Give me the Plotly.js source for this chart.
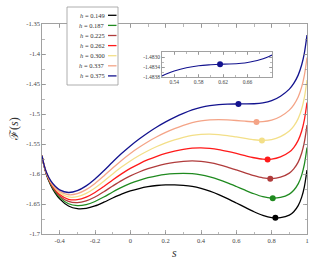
<!DOCTYPE html>
<html><head><meta charset="utf-8">
<script src="https://cdn.plot.ly/plotly-3.0.1.min.js"></script>
<style>html,body{margin:0;padding:0;background:#fff}#chart{width:312px;height:260px}</style>
</head><body><div id="chart"></div>
<script>
// order parameter grid
const sGrid = [-0.5,-0.49,-0.475,-0.45,-0.425,-0.4,-0.35,-0.3,-0.25,-0.2,-0.15,-0.1,-0.05,0,0.05,0.1,0.15,0.2,0.25,0.3,0.35,0.4,0.45,0.5,0.55,0.6,0.65,0.7,0.75,0.8,0.85,0.9,0.925,0.95,0.97,0.985,1.0];

const F_0149 = [-1.5695,-1.5845,-1.6008,-1.6190,-1.6318,-1.6415,-1.6533,-1.6578,-1.6573,-1.6533,-1.6470,-1.6400,-1.6335,-1.6282,-1.6242,-1.6212,-1.6192,-1.6182,-1.6182,-1.6190,-1.6207,-1.6240,-1.6286,-1.6343,-1.6410,-1.6483,-1.6557,-1.6629,-1.6690,-1.6728,-1.6728,-1.6685,-1.6628,-1.6527,-1.6385,-1.6213,-1.5935];
const F_0187 = [-1.5695,-1.58425,-1.6001,-1.6178,-1.6299,-1.6390,-1.6496,-1.6528,-1.6511,-1.6458,-1.6383,-1.6300,-1.6223,-1.6157,-1.6105,-1.6062,-1.6030,-1.6007,-1.5995,-1.5990,-1.5995,-1.6015,-1.6049,-1.6093,-1.6148,-1.6208,-1.6270,-1.6329,-1.6378,-1.6403,-1.6391,-1.6335,-1.6271,-1.6165,-1.6018,-1.5841,-1.5560];
const F_0225 = [-1.5695,-1.5840,-1.5995,-1.6165,-1.6280,-1.6365,-1.6458,-1.6478,-1.6448,-1.6383,-1.6295,-1.6200,-1.6110,-1.6032,-1.5967,-1.5912,-1.5867,-1.5832,-1.5807,-1.5790,-1.5782,-1.5790,-1.5811,-1.5843,-1.5885,-1.5933,-1.5982,-1.6029,-1.6065,-1.6078,-1.6053,-1.5985,-1.5915,-1.5802,-1.5650,-1.5470,-1.5185];
const F_0262 = [-1.5695,-1.58375,-1.5989,-1.6153,-1.6261,-1.6340,-1.6421,-1.6428,-1.6386,-1.6308,-1.6208,-1.6100,-1.5998,-1.5907,-1.5830,-1.5762,-1.5705,-1.5657,-1.5620,-1.5590,-1.5570,-1.5565,-1.5574,-1.5593,-1.5623,-1.5658,-1.5695,-1.5729,-1.5753,-1.5753,-1.5716,-1.5635,-1.5559,-1.5440,-1.5283,-1.5099,-1.4810];
const F_0300 = [-1.5695,-1.5835,-1.5983,-1.6140,-1.6243,-1.6315,-1.6383,-1.6378,-1.6323,-1.6233,-1.6120,-1.6000,-1.5885,-1.5782,-1.5692,-1.5612,-1.5542,-1.5482,-1.5432,-1.5390,-1.5357,-1.5340,-1.5336,-1.5343,-1.5360,-1.5383,-1.5407,-1.5429,-1.5440,-1.5428,-1.5378,-1.5285,-1.5203,-1.5077,-1.4915,-1.4728,-1.4435];
const F_0337 = [-1.5695,-1.58325,-1.5976,-1.6128,-1.6224,-1.6290,-1.6346,-1.6328,-1.6261,-1.6158,-1.6033,-1.5900,-1.5773,-1.5657,-1.5555,-1.5462,-1.5380,-1.5307,-1.5245,-1.5190,-1.5145,-1.5115,-1.5099,-1.5093,-1.5098,-1.5108,-1.5120,-1.5129,-1.5128,-1.5103,-1.5041,-1.4935,-1.4846,-1.4715,-1.4548,-1.4356,-1.4060];
const F_0375 = [-1.5695,-1.5830,-1.5970,-1.6115,-1.6205,-1.6265,-1.6308,-1.6278,-1.6198,-1.6083,-1.5945,-1.5800,-1.5660,-1.5532,-1.5417,-1.5312,-1.5217,-1.5132,-1.5057,-1.4990,-1.4932,-1.4890,-1.4861,-1.4843,-1.4835,-1.4833,-1.4832,-1.4829,-1.4815,-1.4778,-1.4703,-1.4585,-1.4490,-1.4352,-1.4180,-1.3985,-1.3685];

const hLabels = ['0.149','0.187','0.225','0.262','0.300','0.337','0.375'];
const seriesF = [F_0149, F_0187, F_0225, F_0262, F_0300, F_0337, F_0375];
const colors = ['#000000','#1f8a1f','#b03c3c','#ff1a1a','#f3df88','#f4a487','#13138f'];

// marked points (local minimum / inflection)
const dotS = [0.821, 0.806, 0.792, 0.777, 0.745, 0.714, 0.612];
const dotF = [-1.6729, -1.6404, -1.6080, -1.5758, -1.5443, -1.5133, -1.4833];

// inset (zoom of h = 0.375 near inflection)
const insetS = [0.52,0.53,0.54,0.56,0.58,0.60,0.615,0.63,0.65,0.66,0.67,0.68,0.69,0.70];
const insetF = [-1.48376,-1.48365,-1.48356,-1.48343,-1.48335,-1.48331,-1.48329,-1.48328,-1.48325,-1.48322,-1.48317,-1.48311,-1.48303,-1.48292];
const insetDotS = [0.615];
const insetDotF = [-1.48329];

const yTickVals = [-1.7,-1.65,-1.6,-1.55,-1.5,-1.45,-1.4,-1.35];
const yTickText = ['-1.7','-1.65','-1.6','-1.55','-1.5','-1.45','-1.4','-1.35'];
const xTickVals = [-0.4,-0.2,0,0.2,0.4,0.6,0.8,1];
const xTickText = ['-0.4','-0.2','0','0.2','0.4','0.6','0.8','1'];
const ixTickVals = [0.54,0.58,0.62,0.66];
const ixTickText = ['0.54','0.58','0.62','0.66'];
const iyTickVals = [-1.4838,-1.4834,-1.4830];
const iyTickText = ['-1.4838','-1.4834','-1.4830'];

const W = 312, H = 260, ML = 42, MR = 5, MT = 24, MB = 26;
const pw = W - ML - MR, ph = H - MT - MB;
const px = x => (x - ML) / pw;
const py = y => (H - MB - y) / ph;

const traces = [];
seriesF.forEach((f, i) => {
  traces.push({x: sGrid, y: f, type: 'scatter', mode: 'lines',
    line: {color: colors[i], width: 1.3, shape: 'spline', smoothing: 0.8},
    hoverinfo: 'skip', showlegend: false, xaxis: 'x', yaxis: 'y'});
});
traces.push({x: dotS, y: dotF, type: 'scatter', mode: 'markers',
  marker: {color: colors, size: 6}, showlegend: false, xaxis: 'x', yaxis: 'y'});
traces.push({x: insetS, y: insetF, type: 'scatter', mode: 'lines',
  line: {color: colors[6], width: 1.2, shape: 'spline'}, showlegend: false, xaxis: 'x2', yaxis: 'y2'});
traces.push({x: insetDotS, y: insetDotF, type: 'scatter', mode: 'markers',
  marker: {color: colors[6], size: 6}, showlegend: false, xaxis: 'x2', yaxis: 'y2'});

const axCol = '#8a8a8a';
const tickFont = {family: 'Liberation Serif, serif', size: 6.5, color: '#444'};
const mainAx = {showline: true, linecolor: axCol, linewidth: 0.8, mirror: 'ticks', ticks: 'inside',
  ticklen: 4, tickcolor: axCol, tickwidth: 0.7, showgrid: false, zeroline: false,
  tickfont: tickFont, tickmode: 'array'};

const shapes = [], annotations = [];
// legend box
shapes.push({type: 'rect', xref: 'paper', yref: 'paper', x0: px(67), x1: px(118), y0: py(85), y1: py(7),
  fillcolor: '#ffffff', line: {color: '#999', width: 0.8}, layer: 'above'});
hLabels.forEach((h, i) => {
  const yy = 15.3 + 10.1 * i;
  annotations.push({xref: 'paper', yref: 'paper', x: px(106.5), y: py(yy), xanchor: 'right', yanchor: 'middle',
    text: '<i>h</i> = ' + h, showarrow: false, font: {family: 'Liberation Serif, serif', size: 6.5, color: '#333'}});
  shapes.push({type: 'line', xref: 'paper', yref: 'paper', x0: px(108), x1: px(116.5), y0: py(yy), y1: py(yy),
    line: {color: colors[i], width: 1.3}, layer: 'above'});
});
annotations.push({xref: 'paper', yref: 'paper', x: px(174.5), y: py(253), text: '<i>s</i>', showarrow: false,
  xanchor: 'center', yanchor: 'middle', font: {family: 'Liberation Serif, serif', size: 12, color: '#333'}});
annotations.push({xref: 'paper', yref: 'paper', x: px(14), y: py(129),
  text: '<span style="font-family:DejaVu Serif">ℱ</span>(<i>s</i>)', showarrow: false,
  textangle: -90, xanchor: 'center', yanchor: 'middle', font: {family: 'Liberation Serif, serif', size: 12, color: '#333'}});

const layout = {
  width: W, height: H, margin: {l: ML, r: MR, t: MT, b: MB, pad: 0},
  paper_bgcolor: '#fff', plot_bgcolor: 'rgba(0,0,0,0)', showlegend: false,
  xaxis: Object.assign({}, mainAx, {range: [-0.5, 1], tickvals: xTickVals, ticktext: xTickText,
    minor: {tickmode: 'linear', tick0: 0, dtick: 0.1, ticks: 'inside', ticklen: 2.5, tickcolor: axCol, tickwidth: 0.6}}),
  yaxis: Object.assign({}, mainAx, {range: [-1.7, -1.35], tickvals: yTickVals, ticktext: yTickText,
    minor: {tickmode: 'linear', tick0: -1.7, dtick: 0.025, ticks: 'inside', ticklen: 2.5, tickcolor: axCol, tickwidth: 0.6}}),
  xaxis2: Object.assign({}, mainAx, {domain: [px(162), px(272)], anchor: 'y2', range: [0.52, 0.70],
    tickvals: ixTickVals, ticktext: ixTickText, ticklen: 3, tickfont: Object.assign({}, tickFont, {size: 5.5}),
    minor: {tickmode: 'linear', tick0: 0.52, dtick: 0.02, ticks: 'inside', ticklen: 2, tickcolor: axCol, tickwidth: 0.6}}),
  yaxis2: Object.assign({}, mainAx, {domain: [py(77), py(52)], anchor: 'x2', range: [-1.4838, -1.4828],
    tickvals: iyTickVals, ticktext: iyTickText, ticklen: 3, tickfont: Object.assign({}, tickFont, {size: 5.5}),
    minor: {tickmode: 'linear', tick0: -1.4838, dtick: 0.0002, ticks: 'inside', ticklen: 2, tickcolor: axCol, tickwidth: 0.6}}),
  shapes: shapes, annotations: annotations
};

Plotly.newPlot('chart', traces, layout, {staticPlot: true, displayModeBar: false});
</script></body></html>
